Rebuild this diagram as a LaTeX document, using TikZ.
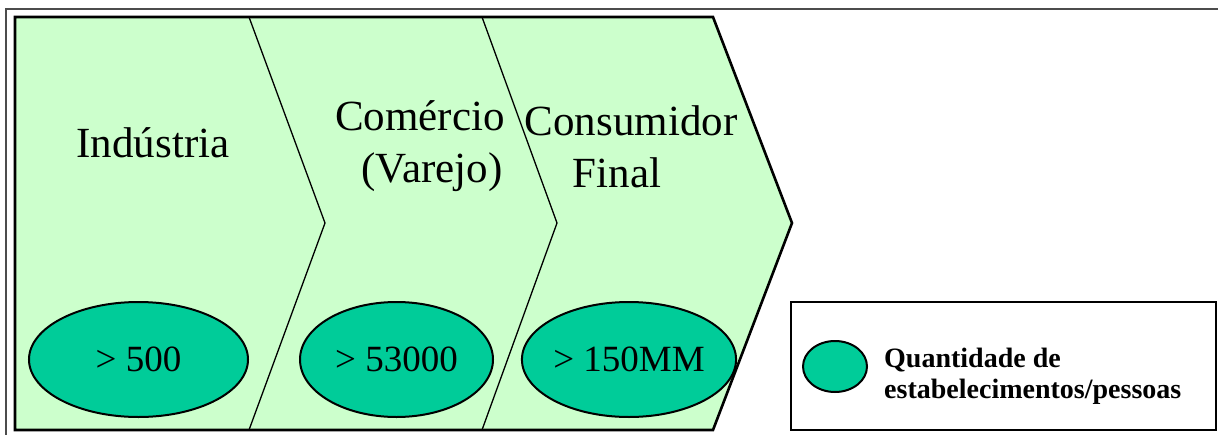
\documentclass[tikz,border=0pt]{standalone}
\usepackage{fontspec}
\setmainfont{Liberation Serif}
\usetikzlibrary{shapes.geometric}
\definecolor{chevfill}{HTML}{CCFFCC}
\definecolor{ellfill}{HTML}{00CC99}
\tikzset{
  chevline/.style={draw=black, line width=2.6pt, line join=miter},
  divline/.style={draw=black, line width=1.3pt},
  bigtext/.style={font=\fontsize{43}{52}\selectfont, inner sep=0pt, anchor=base},
  countell/.style={ellipse, draw=black, line width=2pt, fill=ellfill, inner sep=0pt,
     font=\fontsize{37}{44}\selectfont},
  legtext/.style={font=\bfseries\fontsize{28}{31}\selectfont, inner sep=0pt, anchor=base west},
}
\begin{document}
\begin{tikzpicture}[x=1pt,y=-1pt]
\useasboundingbox (0,0) rectangle (1218,434);
% outer frame
\draw[line width=2.6pt, draw=black!70] (6,436) -- (6,9) -- (1220,9);
% chevrons
\fill[chevfill] (15,17) -- (713,17) -- (792,223) -- (713,430) -- (15,430) -- cycle;
\draw[divline] (249,17) -- (325,223) -- (249,430);
\draw[divline] (482,17) -- (557,223) -- (482,430);
\draw[chevline] (15,17) -- (713,17) -- (792,223) -- (713,430) -- (15,430) -- cycle;
% stage labels
\node[bigtext] (ind) at (153,157) {Indústria};
\node[bigtext] (com1) at (420,130) {Comércio};
\node[bigtext] (com2) at (432,182) {(Varejo)};
\node[bigtext] (con1) at (631,135) {Consumidor};
\node[bigtext] (con2) at (617,187) {Final};
% count ellipses
\node[countell, minimum width=219pt, minimum height=115pt] (e1) at (138.5,359.5) {> 500};
\node[countell, minimum width=193pt, minimum height=115pt] (e2) at (396.5,359.5) {> 53000};
\node[countell, minimum width=194pt, minimum height=115pt] (e3) at (629,359.5) {> 150MM};
% legend
\draw[line width=2.6pt] (791,302) rectangle (1216,430);
\node[ellipse, draw=black, line width=2pt, fill=ellfill, minimum width=64pt, minimum height=51pt, inner sep=0pt] (le) at (835,366.5) {};
\node[legtext] (lt1) at (884,367) {Quantidade de};
\node[legtext] (lt2) at (884,398) {estabelecimentos/pessoas};
\end{tikzpicture}
\end{document}
